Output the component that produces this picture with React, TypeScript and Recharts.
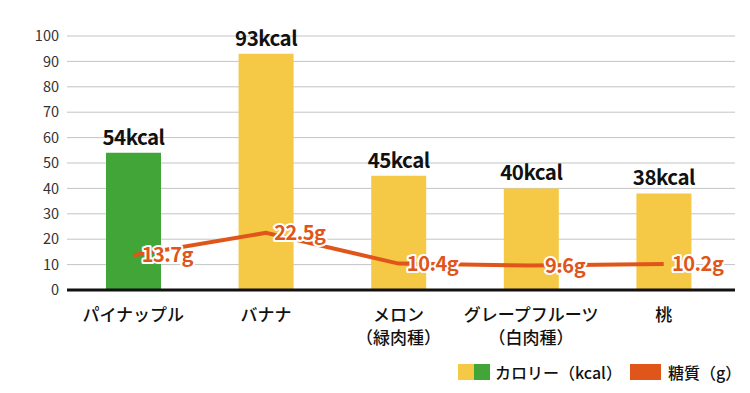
import { Bar, CartesianGrid, Cell, ComposedChart, LabelList, Line, XAxis, YAxis } from 'recharts'

const FRUITS = ['パイナップル', 'バナナ', 'メロン\n（緑肉種）', 'グレープフルーツ\n（白肉種）', '桃']
const KCAL = [54, 93, 45, 40, 38]
const SUGAR = [13.7, 22.5, 10.4, 9.6, 10.2]
const Y_TICKS = [0, 10, 20, 30, 40, 50, 60, 70, 80, 90, 100]

const YELLOW = '#f5c945'
const GREEN = '#41a637'
const ORANGE = '#e05519'
const FONT = '"Noto Sans CJK JP", "Noto Sans", sans-serif'

const data = FRUITS.map((name, i) => ({ name, kcal: KCAL[i], sugar: SUGAR[i] }))

function FruitTick({ x, y, payload }: any) {
  const lines = String(payload.value).split('\n')
  return (
    <text x={x} y={y} textAnchor="middle" fontFamily={FONT} fontSize={17} fontWeight={500} fill="#111">
      {lines.map((l, i) => (
        <tspan key={i} x={x} dy={23}>
          {l}
        </tspan>
      ))}
    </text>
  )
}

function SugarLabel({ x, y, value }: any) {
  return (
    <text
      x={x + 34}
      y={y}
      dy="0.35em"
      textAnchor="middle"
      fontFamily={FONT}
      fontSize={20}
      fontWeight={700}
      fill={ORANGE}
      stroke="#ffffff"
      strokeWidth={4}
      strokeLinejoin="round"
      paintOrder="stroke"
      letterSpacing={-0.5}
    >
      {`${value}g`}
    </text>
  )
}

export default function App() {
  return (
    <div style={{ position: 'absolute', left: 0, top: 0, width: 750, height: 393, background: '#fff' }}>
      <ComposedChart width={750} height={393} data={data} margin={{ top: 36, right: 15, left: 0, bottom: 0 }}>
        <CartesianGrid stroke="#c4c4c4" vertical={false} />
        <XAxis
          dataKey="name"
          height={103}
          interval={0}
          tickLine={false}
          axisLine={{ stroke: '#111', strokeWidth: 3 }}
          padding={{ left: 0, right: 5 }}
          tick={<FruitTick />}
        />
        <YAxis
          width={67}
          domain={[0, 100]}
          ticks={Y_TICKS}
          interval={0}
          tickLine={false}
          axisLine={false}
          tick={{ fontSize: 14.5, fill: '#333', fontFamily: FONT }}
        />
        <Bar dataKey="kcal" barSize={55} isAnimationActive={false}>
          {data.map((_, i) => (
            <Cell key={i} fill={i === 0 ? GREEN : YELLOW} />
          ))}
          <LabelList
            dataKey="kcal"
            position="top"
            offset={8}
            formatter={(v: any) => `${v}kcal`}
            style={{ fontSize: 20.5, fontWeight: 700, fill: '#111', fontFamily: FONT, letterSpacing: -0.5 }}
          />
        </Bar>
        <Line
          dataKey="sugar"
          stroke={ORANGE}
          strokeWidth={4}
          dot={false}
          activeDot={false}
          isAnimationActive={false}
        >
          <LabelList dataKey="sugar" content={<SugarLabel />} />
        </Line>
      </ComposedChart>
      <div
        style={{
          position: 'absolute',
          left: 458,
          top: 360,
          display: 'flex',
          alignItems: 'center',
          fontFamily: FONT,
          fontSize: 16,
          fontWeight: 500,
          color: '#111',
          whiteSpace: 'nowrap',
        }}
      >
        <span style={{ width: 16, height: 16, background: YELLOW, display: 'inline-block' }} />
        <span style={{ width: 16, height: 16, background: GREEN, display: 'inline-block' }} />
        <span style={{ marginLeft: 5 }}>カロリー（kcal）</span>
        <span style={{ width: 31, height: 16, background: ORANGE, display: 'inline-block', marginLeft: 8 }} />
        <span style={{ marginLeft: 7 }}>糖質（g）</span>
      </div>
    </div>
  )
}
